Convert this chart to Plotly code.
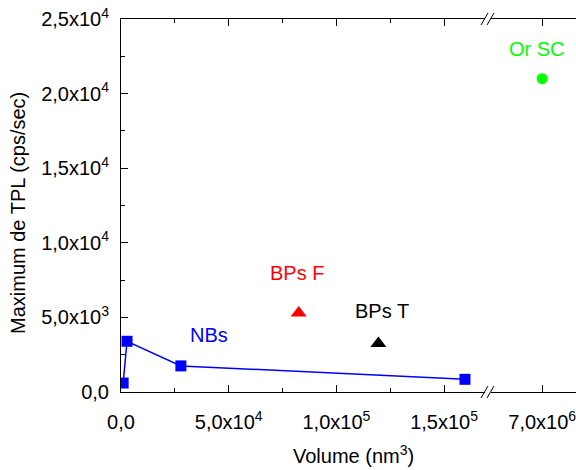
import plotly.graph_objects as go

# ---- data ----
nbs_volume = [1000, 2800, 27800, 159700]
nbs_tpl = [600, 3400, 1750, 850]
bpsf_volume = [82500]
bpsf_tpl = [5300]
bpst_volume = [119500]
bpst_tpl = [3250]
orsc_volume = [7.0e6]
orsc_tpl = [21000]

x1_tickvals = [0, 50000, 100000, 150000]
x1_ticktext = ["0,0", "5,0x10<sup>4</sup>", "1,0x10<sup>5</sup>", "1,5x10<sup>5</sup>"]
x1_minor = [25000, 75000, 125000]
x2_tickvals = [7.0e6]
x2_ticktext = ["7,0x10<sup>6</sup>"]
y_tickvals = [0, 5000, 10000, 15000, 20000, 25000]
y_ticktext = ["0,0", "5,0x10<sup>3</sup>", "1,0x10<sup>4</sup>", "1,5x10<sup>4</sup>",
              "2,0x10<sup>4</sup>", "2,5x10<sup>4</sup>"]
y_minor = [2500, 7500, 12500, 17500, 22500]

FONT = "Liberation Sans, Arial, sans-serif"
W, H = 576, 470
L, R, T, B = 121, 0, 19, 78
pw = W - L - R
ph = H - T - B
brk_px = 488
gap = 3
d1 = (brk_px - gap - L) / pw
d2 = (brk_px + gap - L) / pw
brk = (brk_px - L) / pw

fig = go.Figure()
fig.add_trace(go.Scatter(x=nbs_volume, y=nbs_tpl, mode="lines+markers",
                         line=dict(color="#0000FF", width=1.5),
                         marker=dict(symbol="square", size=11, color="#0000FF"),
                         xaxis="x", yaxis="y", showlegend=False))
fig.add_trace(go.Scatter(x=bpsf_volume, y=bpsf_tpl, mode="markers",
                         marker=dict(symbol="triangle-up", size=14, color="#FF0000"),
                         xaxis="x", yaxis="y", showlegend=False))
fig.add_trace(go.Scatter(x=bpst_volume, y=bpst_tpl, mode="markers",
                         marker=dict(symbol="triangle-up", size=14, color="#000000"),
                         xaxis="x", yaxis="y", showlegend=False))
fig.add_trace(go.Scatter(x=orsc_volume, y=orsc_tpl, mode="markers",
                         marker=dict(symbol="circle", size=11, color="#00FF00"),
                         xaxis="x2", yaxis="y", showlegend=False))

common_x = dict(showline=True, linecolor="black", linewidth=1, mirror="allticks",
                ticks="inside", ticklen=7, tickwidth=1, tickcolor="black",
                showgrid=False, zeroline=False, automargin=False,
                ticklabelstandoff=12, ticklabeloverflow="allow",
                tickfont=dict(family=FONT, size=20, color="black"))

fig.update_layout(
    width=W, height=H,
    margin=dict(l=L, r=R, t=T, b=B, pad=0),
    plot_bgcolor="white", paper_bgcolor="white",
    font=dict(family=FONT, color="black"),
    xaxis=dict(domain=[0, d1], range=[0, 169000], anchor="y",
               tickmode="array", tickvals=x1_tickvals, ticktext=x1_ticktext,
               minor=dict(tickmode="array", tickvals=x1_minor, ticks="inside",
                          ticklen=4, tickwidth=1, tickcolor="black"),
               **common_x),
    xaxis2=dict(domain=[d2, 1], range=[6.47e6, 7.35e6], anchor="y",
                tickmode="array", tickvals=x2_tickvals, ticktext=x2_ticktext,
                **common_x),
    yaxis=dict(domain=[0, 1], range=[0, 25000], anchor="x",
               showline=True, linecolor="black", linewidth=1,
               ticks="inside", ticklen=7, tickwidth=1, tickcolor="black",
               tickmode="array", tickvals=y_tickvals, ticktext=y_ticktext,
               minor=dict(tickmode="array", tickvals=y_minor, ticks="inside",
                          ticklen=4, tickwidth=1, tickcolor="black"),
               showgrid=False, zeroline=False, automargin=False,
               ticklabelstandoff=7,
               tickfont=dict(family=FONT, size=20, color="black")),
)

# axis titles as annotations (x title spans both broken segments)
fig.add_annotation(text="Volume (nm<sup>3</sup>)", xref="paper", yref="paper",
                   x=(353 - L) / pw, y=0, yshift=-62, showarrow=False,
                   xanchor="center", yanchor="middle",
                   font=dict(family=FONT, size=20, color="black"))
fig.add_annotation(text="Maximum de TPL (cps/sec)", xref="paper", yref="paper",
                   x=0, xshift=18 - L, y=(H - B - 213) / ph, showarrow=False,
                   textangle=-90, xanchor="center", yanchor="middle",
                   font=dict(family=FONT, size=20, color="black"))

# series labels
labels = [("NBs", 41000, 3850, "x", "#0000FF"),
          ("BPs F", 81500, 7950, "x", "#FF0000"),
          ("BPs T", 121000, 5400, "x", "#000000"),
          ("Or SC", 6.945e6, 23000, "x2", "#00FF00")]
for txt, xv, yv, xr, col in labels:
    fig.add_annotation(text=txt, x=xv, y=yv, xref=xr, yref="y", showarrow=False,
                       font=dict(family=FONT, size=20, color=col))

# axis break marks (//) on bottom and top
for yanc in (0, 1):
    for off in (-6, 0):
        fig.add_shape(type="line", xref="paper", yref="paper",
                      xsizemode="pixel", ysizemode="pixel",
                      xanchor=brk, yanchor=yanc,
                      x0=off - 1, x1=off + 6, y0=-6, y1=6,
                      line=dict(color="black", width=1))

fig.write_html("out.html", config={"displayModeBar": False},
               post_script="document.body.style.margin='0';document.body.style.overflow='hidden';")
